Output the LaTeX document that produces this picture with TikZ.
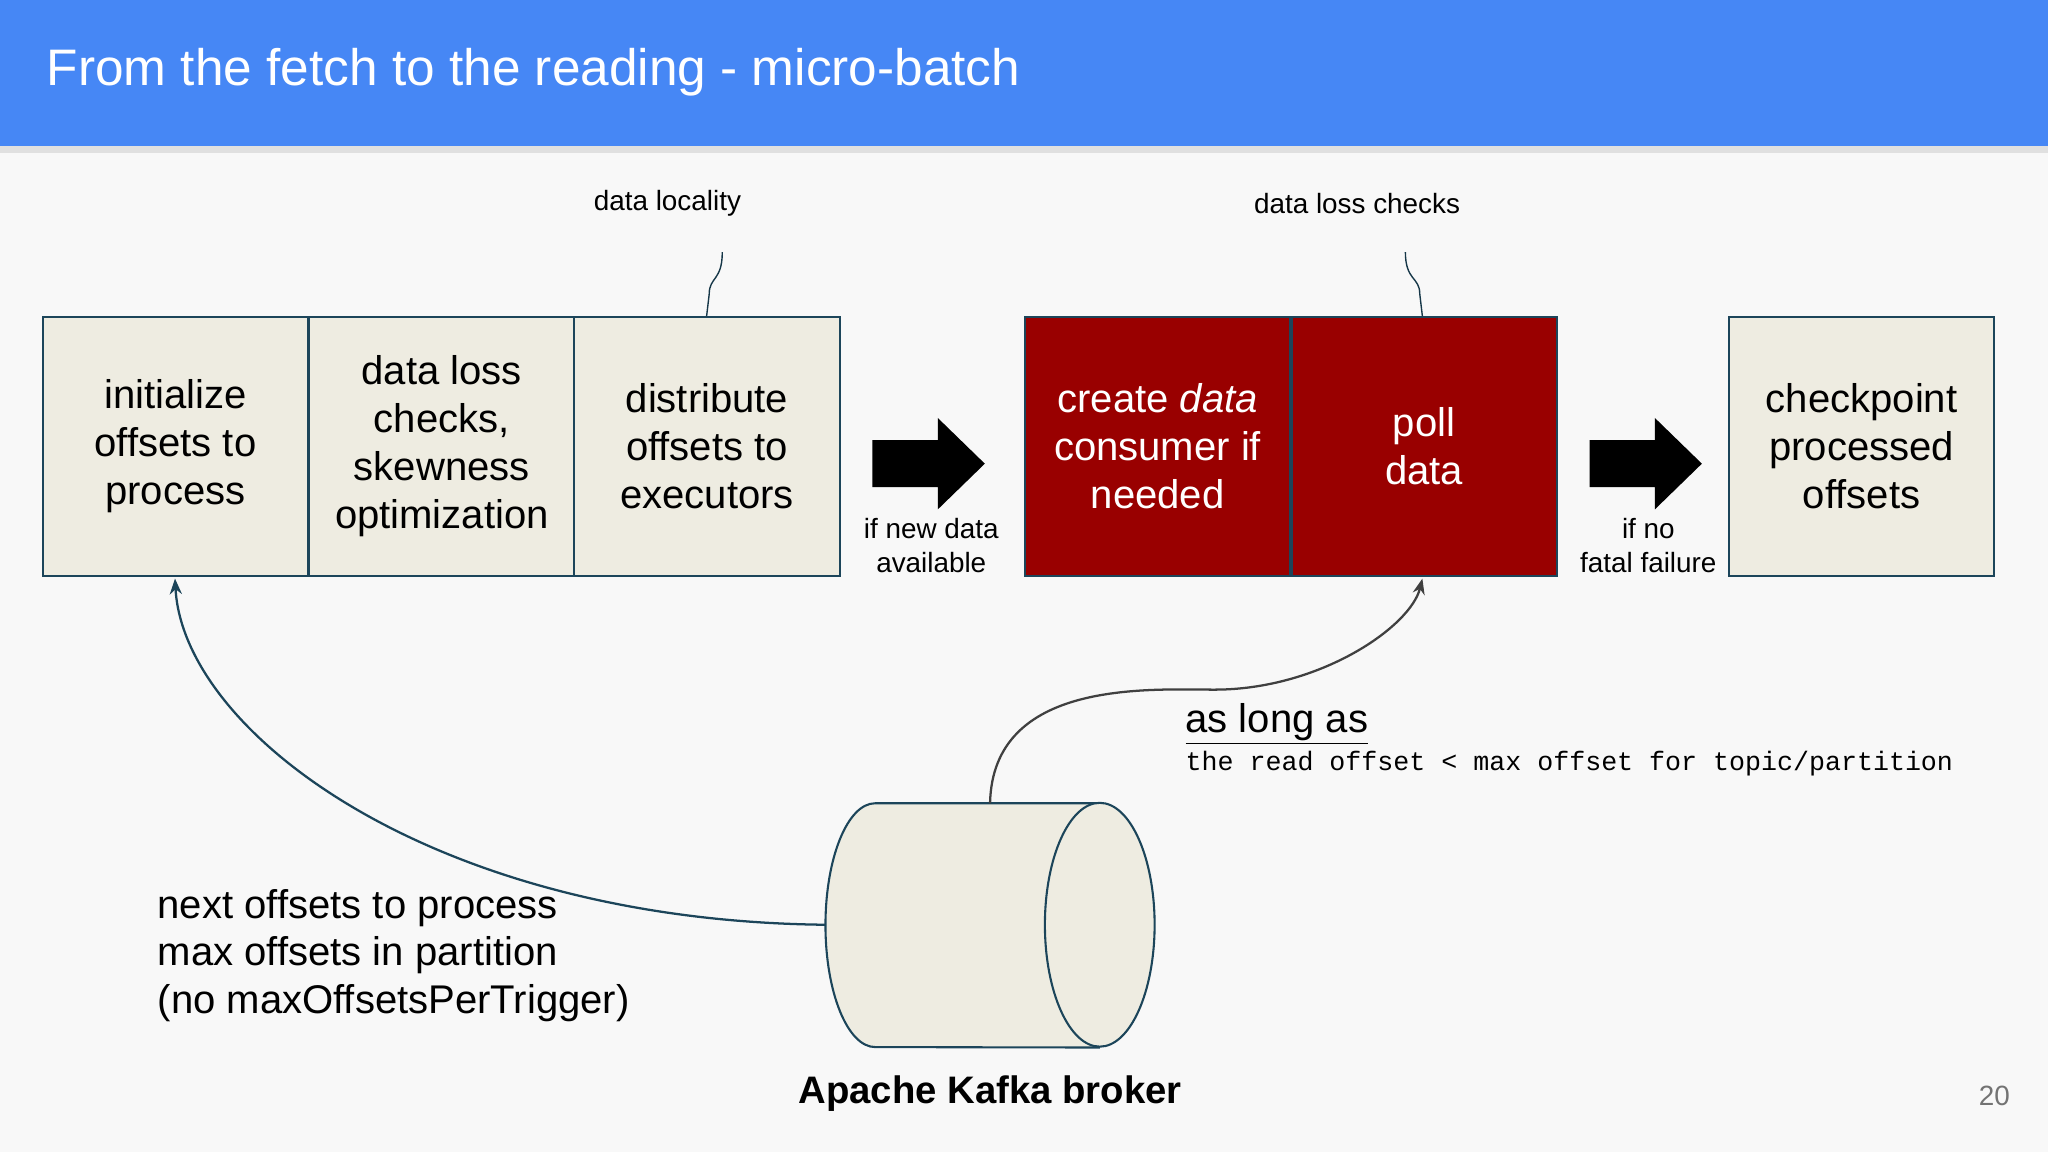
\documentclass[tikz,border=0pt]{standalone}
\usepackage{fontspec}
\setmainfont{Liberation Sans}
\setmonofont{Liberation Mono}
\usetikzlibrary{arrows.meta}
\definecolor{bar}{RGB}{70,135,245}
\definecolor{bg}{RGB}{248,248,248}
\definecolor{beige}{RGB}{238,236,225}
\definecolor{edge}{RGB}{28,69,90}
\definecolor{dred}{RGB}{153,0,0}
\tikzset{
 box/.style={draw=edge,line width=1.2pt,fill=beige,minimum width=152.25pt,minimum height=148.5pt,inner sep=0,align=center,font=\fontsize{23}{27.5}\selectfont,anchor=north west},
 rbox/.style={box,fill=dred,text=white},
 small/.style={font=\fontsize{16}{19.5}\selectfont,align=center},
 blk/.style={fill=black},
 curl/.style={line width=0.8pt,edge!80!black}
}
\begin{document}
\begin{tikzpicture}[x=0.75pt,y=-0.75pt]
\useasboundingbox (0,0) rectangle (1568,882);
\fill[bg] (0,0) rectangle (1568,882);
\fill[black!12] (0,112) rectangle (1568,117);
\fill[bar] (0,0) rectangle (1568,112);
\node[anchor=west,text=white,font=\fontsize{29.5}{36}\selectfont] (title) at (31,55) {From the fetch to the reading - micro-batch};
\node[box] (b1) at (32,242) {initialize\\offsets to\\process};
\node[box] (b2) at (236,242) {data loss\\checks,\\skewness\\optimization};
\node[box] (b3) at (439,242) {distribute\\offsets to\\executors};
\node[rbox] (r1) at (784,242) {create \textit{data}\\consumer if\\needed};
\node[rbox] (r2) at (988,242) {poll\\data};
\node[box] (c1) at (1323,242) {checkpoint\\processed\\offsets};
\fill[blk] (668,337) -- (718,337) -- (718,320) -- (754,355) -- (718,390) -- (718,373) -- (668,373) -- cycle;
\fill[blk] (1217,337) -- (1267,337) -- (1267,320) -- (1303,355) -- (1267,390) -- (1267,373) -- (1217,373) -- cycle;
\node[small] (l1) at (713,418) {if new data\\available};
\node[small] (l2) at (1262,418) {if no\\fatal failure};
\node[small] (t1) at (511,156) {data locality};
\node[small] (t2) at (1039,156) {data loss checks};
\coordinate (k1) at (553,193); \coordinate (k1e) at (541,242);
\coordinate (k2) at (1076,193); \coordinate (k2e) at (1089,242);
\draw[curl] (k1) .. controls (553,215) and (543,212) .. (543,225) -- (k1e);
\draw[curl] (k2) .. controls (1076,215) and (1087,212) .. (1087,225) -- (k2e);
% cylinder
\draw[edge,line width=1.2pt,fill=beige] (842,615) -- (670,615) arc[start angle=90,end angle=270,x radius=28.5pt,y radius=70pt] -- (842,802);
\draw[edge,line width=1.2pt,fill=beige] (842,708) ellipse[x radius=31.5pt,y radius=70pt];
\coordinate (cl) at (632,708); \coordinate (ct) at (758,615);
\node[font=\fontsize{22}{26}\selectfont\bfseries] (kb) at (758,837) {Apache Kafka broker};
\draw[edge,line width=1.3pt,-{Stealth[length=9,width=7]}] (cl) .. controls (330,705) and (140,560) .. (134,443);
\draw[black!75,line width=1.3pt,-{Stealth[length=9,width=7]}] (ct) .. controls (760,520) and (880,528) .. (930,528) .. controls (1010,528) and (1080,480) .. (1089,443);
\node[anchor=west,font=\fontsize{23}{26}\selectfont] (al) at (903,554) {\underline{as long as}};
\node[anchor=west,font=\fontsize{15.3}{17}\ttfamily] (mono) at (903,585) {the read offset < max offset for topic/partition};
\node[anchor=north west,align=left,font=\fontsize{23}{27.5}\selectfont] (nx) at (116,676) {next offsets to process\\max offsets in partition\\(no maxOffsetsPerTrigger)};
\node[text=black!55,font=\fontsize{16}{19}\selectfont] (pg) at (1527,839) {20};
\end{tikzpicture}
\end{document}
